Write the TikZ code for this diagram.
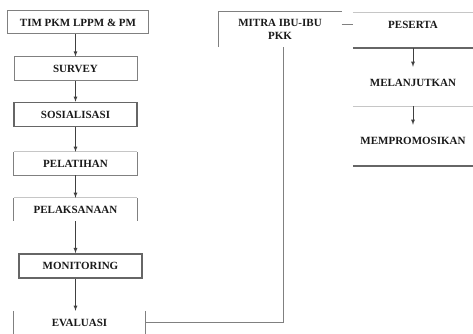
\documentclass[tikz,border=0pt]{standalone}
\usepackage{fontspec}
\setmainfont{Liberation Serif}
\begin{document}
\begin{tikzpicture}[x=1pt,y=-1pt,>=latex,
            every node/.style={font=\fontsize{11}{12}\selectfont\bfseries, inner sep=0pt, text=black!90},
            box/.style={minimum width=123pt, minimum height=24pt},
            side/.style={minimum width=120pt, minimum height=32pt},
            lite/.style={draw=gray!45, line width=0.8pt},
            mid/.style={draw=gray, line width=1pt},
            dark/.style={draw=black!60, line width=1.5pt},
            arr/.style={->, draw=black!75, line width=0.8pt}]
            \useasboundingbox (0,0) rectangle (473,334);
            \draw (78,22.5) node[box, mid, minimum width=141pt, minimum height=23pt] (tim) {TIM PKM LPPM \& PM};
            \draw (75.5,69) node[box, mid] (sur) {SURVEY};
            \draw (75.5,114.5) node[box, dark] (sos) {SOSIALISASI};
            \draw (75.5,163.5) node[box, minimum height=23pt] (lat) {PELATIHAN};
            \draw (75.5,209.5) node[box, minimum height=23pt] (lak) {PELAKSANAAN};
            \draw (80.5,266) node[box, dark, line width=1.7pt] (mon) {MONITORING};
            \draw (79.5,322.5) node[box, minimum width=131pt, minimum height=23pt] (eva) {EVALUASI};
            \draw (280,29.5) node[box, minimum height=35pt, align=center] (mitra) {MITRA IBU-IBU\\[1pt]PKK};
            \draw (413,25) node[minimum width=120pt] (ps) {PESERTA};
            \draw (413,83) node[side] (mel) {MELANJUTKAN};
            \draw (413,141) node[side] (mem) {MEMPROMOSIKAN};
            % open box sides
            \draw[lite] (lat.north west) -- (lat.north east)
                        (lak.north west) -- (lak.north east);
            \draw[mid] (lat.north west) -- (lat.south west) -- (lat.south east) -- (lat.north east)
                       (lak.north west) -- (lak.south west)
                       (lak.north east) -- (lak.south east)
                       (eva.north west) -- (eva.south west)
                       (eva.north east) -- (eva.south east)
                       (mitra.south west) -- (mitra.north west) -- (mitra.north east);
            \draw[lite] (ps.west |- 0,12) -- (ps.east |- 0,12)
                        (mel.west |- 0,106) -- (mel.east |- 0,106);
            \draw[dark] (ps.west |- 0,48) -- (ps.east |- 0,48)
                        (mem.west |- 0,166) -- (mem.east |- 0,166);
            % arrows
            \draw[arr] (tim.south -| sur.north) -- (sur.north);
            \draw[arr] (sur) -- (sos);
            \draw[arr] (sos) -- (lat);
            \draw[arr] (lat) -- (lak);
            \draw[arr] (lak.south) -- (mon.north -| lak.south);
            \draw[arr] (mon.south -| lak.south) -- (eva.north -| lak.south);
            \draw[arr] (ps |- 0,48) -- (mel.north);
            \draw[arr] (mel |- 0,106) -- (mem.north);
            % links
            \draw[mid] (mitra.east |- ps.west) -- (ps.west)
                       (eva.east) -| ([xshift=3pt]mitra.south);
        \end{tikzpicture}
\end{document}
